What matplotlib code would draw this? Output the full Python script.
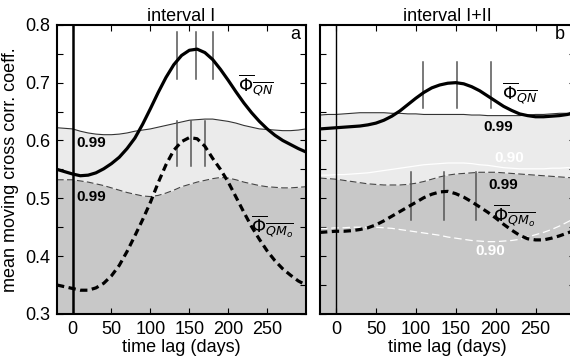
import numpy as np
import matplotlib
matplotlib.use('Agg')
import matplotlib.pyplot as plt
from matplotlib.ticker import MultipleLocator

plt.rcParams['font.family'] = ['Liberation Sans', 'DejaVu Sans']
plt.rcParams['mathtext.fontset'] = 'dejavusans'

# time lag grid (days), -20 .. 300 every 10
lag = list(range(-20, 301, 10))

# interval I
a_qn = [0.550, 0.546, 0.542, 0.539, 0.540, 0.544, 0.551, 0.560, 0.571, 0.586, 0.604,
        0.628, 0.655, 0.683, 0.709, 0.731, 0.747, 0.756, 0.758, 0.752, 0.740, 0.723,
        0.704, 0.684, 0.665, 0.648, 0.633, 0.620, 0.609, 0.600, 0.593, 0.586, 0.580]
a_qn99 = [0.622, 0.621, 0.620, 0.616, 0.613, 0.611, 0.610, 0.610, 0.611, 0.613, 0.616,
          0.618, 0.620, 0.623, 0.626, 0.629, 0.632, 0.635, 0.636, 0.637, 0.637, 0.635,
          0.633, 0.630, 0.626, 0.623, 0.620, 0.619, 0.618, 0.617, 0.617, 0.618, 0.620]
a_qm99 = [0.532, 0.532, 0.532, 0.530, 0.528, 0.525, 0.522, 0.518, 0.514, 0.510, 0.507,
          0.504, 0.503, 0.505, 0.509, 0.514, 0.520, 0.524, 0.528, 0.531, 0.534, 0.536,
          0.535, 0.532, 0.528, 0.525, 0.522, 0.520, 0.519, 0.518, 0.518, 0.519, 0.520]
a_qm = [0.350, 0.347, 0.344, 0.341, 0.341, 0.345, 0.353, 0.366, 0.384, 0.408, 0.435,
        0.463, 0.493, 0.527, 0.558, 0.583, 0.598, 0.605, 0.603, 0.590, 0.569, 0.550,
        0.528, 0.502, 0.476, 0.451, 0.429, 0.409, 0.392, 0.378, 0.367, 0.357, 0.350]
a_qn_bars = [134, 158, 181]
a_qn_span = (0.707, 0.788)
a_qm_bars = [134, 152, 170]
a_qm_span = (0.555, 0.633)

# interval I+II
b_qn = [0.620, 0.621, 0.622, 0.623, 0.624, 0.625, 0.627, 0.630, 0.635, 0.642, 0.651,
        0.662, 0.673, 0.683, 0.691, 0.696, 0.699, 0.700, 0.698, 0.693, 0.686, 0.677,
        0.668, 0.659, 0.652, 0.646, 0.643, 0.641, 0.641, 0.642, 0.643, 0.645, 0.648]
b_qn99 = [0.644, 0.645, 0.645, 0.646, 0.647, 0.648, 0.648, 0.648, 0.648, 0.647, 0.647,
          0.646, 0.646, 0.645, 0.645, 0.645, 0.645, 0.645, 0.645, 0.644, 0.644, 0.643,
          0.643, 0.643, 0.643, 0.643, 0.644, 0.645, 0.645, 0.646, 0.647, 0.647, 0.648]
b_qn90 = [0.540, 0.540, 0.541, 0.541, 0.542, 0.543, 0.544, 0.546, 0.548, 0.550, 0.552,
          0.554, 0.556, 0.558, 0.559, 0.560, 0.561, 0.561, 0.561, 0.560, 0.558, 0.557,
          0.555, 0.553, 0.552, 0.551, 0.551, 0.551, 0.551, 0.552, 0.552, 0.553, 0.553]
b_qm99 = [0.535, 0.534, 0.533, 0.531, 0.529, 0.527, 0.525, 0.524, 0.523, 0.523, 0.523,
          0.524, 0.526, 0.529, 0.533, 0.537, 0.540, 0.542, 0.543, 0.544, 0.545, 0.545,
          0.545, 0.544, 0.543, 0.542, 0.541, 0.540, 0.539, 0.538, 0.537, 0.536, 0.535]
b_qm90 = [0.448, 0.448, 0.449, 0.449, 0.450, 0.450, 0.450, 0.450, 0.449, 0.448, 0.446,
          0.444, 0.442, 0.440, 0.438, 0.436, 0.433, 0.431, 0.429, 0.427, 0.426, 0.425,
          0.425, 0.426, 0.427, 0.429, 0.433, 0.437, 0.441, 0.446, 0.452, 0.459, 0.466]
b_qm = [0.441, 0.442, 0.443, 0.443, 0.444, 0.446, 0.449, 0.454, 0.461, 0.469, 0.477,
        0.485, 0.493, 0.501, 0.507, 0.511, 0.512, 0.508, 0.502, 0.494, 0.485, 0.476,
        0.466, 0.455, 0.445, 0.436, 0.430, 0.428, 0.428, 0.431, 0.435, 0.440, 0.445]
b_qn_bars = [109, 151, 194]
b_qn_span = (0.656, 0.735)
b_qm_bars = [94, 135, 175]
b_qm_span = (0.463, 0.545)

LIGHT = '#ebebeb'
DARK = '#c8c8c8'
QN_LABEL = r'$\overline{\Phi}_{\overline{QN}}$'
QM_LABEL = r'$\overline{\Phi}_{\overline{QM_o}}$'


def style_axes(ax, show_ylabels):
    ax.set_xlim(-20, 300)
    ax.set_ylim(0.3, 0.8)
    ax.yaxis.set_major_locator(MultipleLocator(0.1))
    ax.yaxis.set_minor_locator(MultipleLocator(0.05))
    ax.tick_params(which='both', direction='in', top=True, right=True, length=4,
                   width=0.8, labelsize=13, pad=5)
    ax.set_xticks([0, 50, 100, 150, 200, 250])
    if not show_ylabels:
        ax.tick_params(labelleft=False)
    for s in ax.spines.values():
        s.set_linewidth(1.5)
    ax.set_xlabel('time lag (days)', fontsize=13, labelpad=1)


def bars(ax, xs, span):
    for x in xs:
        ax.plot([x, x], span, color='#555555', lw=1.1, zorder=4)


fig = plt.figure(figsize=(5.7, 3.6), dpi=100)
ax1 = fig.add_axes([0.1, 0.128, 0.437, 0.803])
ax2 = fig.add_axes([0.5614, 0.128, 0.4482, 0.803])

# panel a
ax1.fill_between(lag, 0.3, a_qn99, color=LIGHT, lw=0, zorder=1)
ax1.fill_between(lag, 0.3, a_qm99, color=DARK, lw=0, zorder=1)
ax1.plot(lag, a_qn99, color='#333333', lw=0.8, zorder=2)
ax1.plot(lag, a_qm99, color='#444444', lw=0.8, ls=(0, (6, 3)), zorder=2)
ax1.axvline(0, color='black', lw=1.8, zorder=3)
ax1.plot(lag, a_qn, color='black', lw=2.3, zorder=5)
ax1.plot(lag, a_qm, color='black', lw=2.3, ls=(0, (2.3, 1.4)), zorder=5)
bars(ax1, a_qn_bars, a_qn_span)
bars(ax1, a_qm_bars, a_qm_span)
ax1.text(5, 0.595, '0.99', fontsize=11, fontweight='bold', va='center')
ax1.text(5, 0.503, '0.99', fontsize=11, fontweight='bold', va='center')
ax1.text(235, 0.696, QN_LABEL, fontsize=13, ha='center', va='center')
ax1.text(257, 0.452, QM_LABEL, fontsize=13, ha='center', va='center')
ax1.text(292, 0.783, 'a', fontsize=13, ha='right', va='center')
ax1.set_title('interval I', fontsize=13, pad=3)
ax1.set_ylabel('mean moving cross corr. coeff.', fontsize=13, labelpad=4)
style_axes(ax1, True)

# panel b
ax2.fill_between(lag, 0.3, b_qn99, color=LIGHT, lw=0, zorder=1)
ax2.fill_between(lag, 0.3, b_qm99, color=DARK, lw=0, zorder=1)
ax2.plot(lag, b_qn99, color='#333333', lw=0.8, zorder=2)
ax2.plot(lag, b_qn90, color='white', lw=0.9, zorder=2)
ax2.plot(lag, b_qm99, color='#444444', lw=0.8, ls=(0, (6, 3)), zorder=2)
ax2.plot(lag, b_qm90, color='white', lw=0.9, ls=(0, (6, 3)), zorder=2)
ax2.axvline(0, color='black', lw=1.0, zorder=3)
ax2.plot(lag, b_qn, color='black', lw=2.3, zorder=5)
ax2.plot(lag, b_qm, color='black', lw=2.3, ls=(0, (2.3, 1.4)), zorder=5)
bars(ax2, b_qn_bars, b_qn_span)
bars(ax2, b_qm_bars, b_qm_span)
ax2.text(185, 0.624, '0.99', fontsize=11, fontweight='bold', va='center')
ax2.text(199, 0.569, '0.90', fontsize=11, fontweight='bold', va='center', color='white')
ax2.text(191, 0.523, '0.99', fontsize=11, fontweight='bold', va='center')
ax2.text(174, 0.408, '0.90', fontsize=11, fontweight='bold', va='center', color='white')
ax2.text(230, 0.681, QN_LABEL, fontsize=13, ha='center', va='center')
ax2.text(224, 0.471, QM_LABEL, fontsize=13, ha='center', va='center')
ax2.text(287, 0.783, 'b', fontsize=13, ha='right', va='center')
ax2.set_title('interval I+II', fontsize=13, pad=3)
style_axes(ax2, False)

fig.savefig('out.png', dpi=100)
